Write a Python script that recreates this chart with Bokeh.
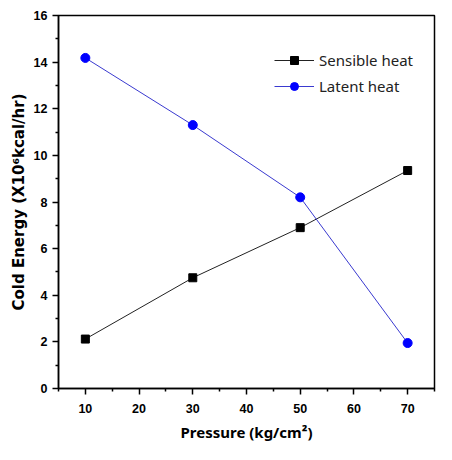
from bokeh.plotting import figure
from bokeh.models import FixedTicker, Range1d, Legend, LegendItem
from bokeh.embed import file_html
from bokeh.resources import INLINE

pressure = [10, 30, 50, 70]
sensible = [2.12, 4.75, 6.9, 9.35]
latent = [14.18, 11.3, 8.2, 1.95]
x_ticks = [10, 20, 30, 40, 50, 60, 70]
x_minor = [5, 15, 25, 35, 45, 55, 65, 75]
y_ticks = [0, 2, 4, 6, 8, 10, 12, 14, 16]
y_minor = [1, 3, 5, 7, 9, 11, 13, 15]

p = figure(width=436, height=444, output_backend="svg", toolbar_location=None,
           x_range=Range1d(5, 75), y_range=Range1d(0, 16),
           min_border_left=58, min_border_right=2, min_border_top=15,
           min_border_bottom=52)
p.grid.visible = False
p.outline_line_color = "black"
p.outline_line_width = 1.5
p.background_fill_color = "white"
p.border_fill_color = "white"

p.xaxis.ticker = FixedTicker(ticks=x_ticks, minor_ticks=x_minor)
p.yaxis.ticker = FixedTicker(ticks=y_ticks, minor_ticks=y_minor)

for ax in (p.xaxis, p.yaxis):
    ax.axis_line_width = 1.5
    ax.axis_line_color = "black"
    ax.major_tick_line_width = 1.5
    ax.minor_tick_line_width = 1.5
    ax.major_tick_out = 6
    ax.major_tick_in = 0
    ax.minor_tick_out = 3
    ax.minor_tick_in = 0
    ax.major_label_text_font = "Liberation Sans"
    ax.major_label_text_font_style = "bold"
    ax.major_label_text_font_size = "12.5px"
    ax.major_label_text_color = "black"
    ax.axis_label_text_color = "black"

p.xaxis.major_label_standoff = 9
p.yaxis.major_label_standoff = 5

p.yaxis.axis_label = "Cold Energy (X10\u2076kcal/hr)"
p.yaxis.axis_label_text_font = "DejaVu Sans"
p.yaxis.axis_label_text_font_style = "bold"
p.yaxis.axis_label_text_font_size = "15px"
p.yaxis.axis_label_standoff = 3

p.xaxis.axis_label = "Pressure (kg/cm\u00b2)"
p.xaxis.axis_label_text_font = "Noto Sans"
p.xaxis.axis_label_text_font_style = "bold"
p.xaxis.axis_label_text_font_size = "15px"
p.xaxis.axis_label_standoff = 6

l1 = p.line(pressure, sensible, line_color="#222222", line_width=1)
s1 = p.scatter(pressure, sensible, marker="square", size=8, fill_color="black", line_color="black")
l2 = p.line(pressure, latent, line_color="#3a3ad0", line_width=1)
s2 = p.scatter(pressure, latent, marker="circle", size=9, fill_color="blue", line_color="blue")

legend = Legend(items=[LegendItem(label="Sensible heat", renderers=[l1, s1]),
                       LegendItem(label="Latent heat", renderers=[l2, s2])],
                location=(211, 287))
legend.border_line_alpha = 0
legend.background_fill_alpha = 0
legend.label_text_font = "Noto Sans"
legend.label_text_font_size = "15px"
legend.label_text_color = "#222222"
legend.glyph_width = 40
legend.glyph_height = 20
legend.label_height = 20
legend.spacing = 6
legend.padding = 5
legend.margin = 0
p.add_layout(legend)

open("out.html", "w").write(file_html(p, INLINE))
